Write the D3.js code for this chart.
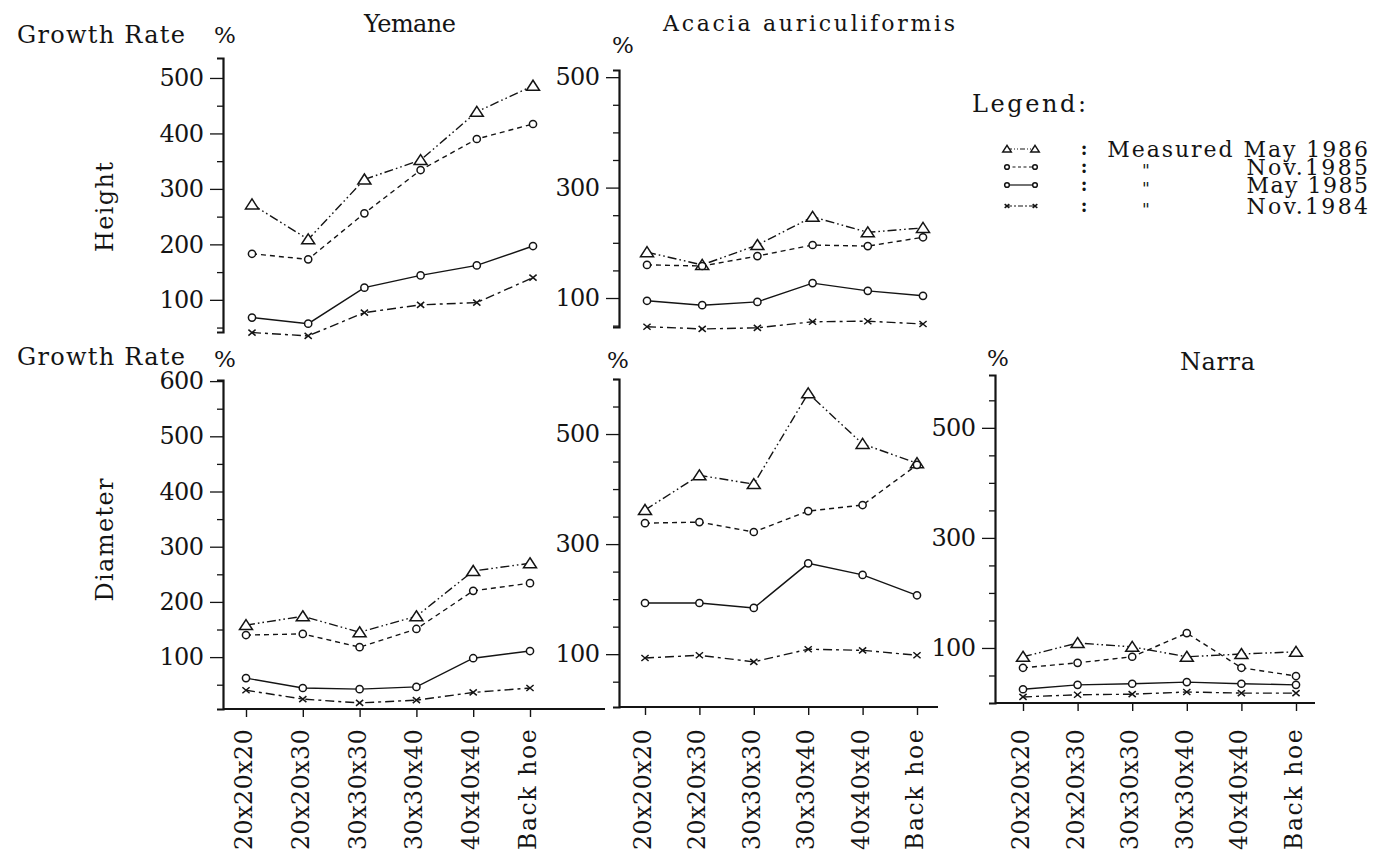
<!DOCTYPE html>
<html>
<head>
<meta charset="utf-8">
<script src="https://cdn.jsdelivr.net/npm/d3@7"></script>
<style>
  html, body { margin: 0; padding: 0; background: #fff; }
  svg { display: block; }
</style>
</head>
<body>
<svg id="chart" width="1376" height="858"></svg>
<script>
// Planting-hole size treatments (x axis)
const categories = ["20x20x20", "20x20x30", "30x30x30", "30x30x40", "40x40x40", "Back hoe"];
const seriesLabels = ["Measured May 1986", "Nov.1985", "May 1985", "Nov.1984"];

// Yemane – height growth rate (%)
const yemaneHeightMay86 = [272, 209, 317, 352, 439, 486];
const yemaneHeightNov85 = [183, 173, 256, 334, 390, 417];
const yemaneHeightMay85 = [68, 57, 122, 144, 162, 197];
const yemaneHeightNov84 = [41, 35, 77, 91, 95, 140];

// Acacia auriculiformis – height growth rate (%)
const acaciaHeightMay86 = [183, 160, 196, 247, 219, 227];
const acaciaHeightNov85 = [160, 158, 176, 196, 194, 210];
const acaciaHeightMay85 = [95, 87, 93, 127, 113, 104];
const acaciaHeightNov84 = [48, 44, 46, 57, 58, 53];

// Yemane – diameter growth rate (%)
const yemaneDiamMay86 = [158, 174, 145, 174, 256, 270];
const yemaneDiamNov85 = [140, 142, 118, 151, 220, 234];
const yemaneDiamMay85 = [62, 44, 42, 46, 98, 111];
const yemaneDiamNov84 = [40, 24, 17, 22, 36, 44];

// Acacia auriculiformis – diameter growth rate (%)
const acaciaDiamMay86 = [362, 425, 409, 574, 482, 447];
const acaciaDiamNov85 = [338, 340, 322, 360, 371, 444];
const acaciaDiamMay85 = [193, 193, 184, 265, 244, 207];
const acaciaDiamNov84 = [93, 98, 86, 109, 107, 98];

// Narra – diameter growth rate (%)
const narraDiamMay86 = [84, 109, 102, 84, 89, 93];
const narraDiamNov85 = [64, 73, 84, 127, 64, 49];
const narraDiamMay85 = [25, 33, 35, 38, 35, 33];
const narraDiamNov84 = [11, 15, 16, 20, 18, 18];

// Labelled y ticks per panel
const ticksYemaneHeight = [100, 200, 300, 400, 500];
const ticksAcaciaHeight = [100, 300, 500];
const ticksYemaneDiam = [100, 200, 300, 400, 500, 600];
const ticksAcaciaDiam = [100, 300, 500];
const ticksNarraDiam = [100, 300, 500];

// ---------- drawing ----------
// typewriter look: serif face spread to a fixed pitch per character
const FONT = "'DejaVu Serif', 'Liberation Serif', serif";
const ADV = 15.2;               // px per character
const INK = "#141414";
const svg = d3.select("#chart");

// spread a start-anchored text so it spans `width` px
function fit(t, width) {
  const n = t.text().length;
  if (n < 2) return t;
  const nat = t.node().getComputedTextLength();
  t.attr("letter-spacing", ((width - nat) / (n - 1)).toFixed(2));
  return t;
}

// line style + marker per series (May 86, Nov 85, May 85, Nov 84)
const styles = [
  { dash: "9,3,1.6,3,1.6,3", legendDash: "5,2,1,2,1,2", marker: "triangle" },
  { dash: "5,4", legendDash: "3,2.5", marker: "circle" },
  { dash: null, legendDash: null, marker: "circle" },
  { dash: "9,4,3,4", legendDash: "5,2,2,2", marker: "cross" }
];

function drawMarker(g, type, cx, cy, s) {
  if (type === "triangle") {
    g.append("path")
      .attr("d", `M${cx},${cy - 5.5 * s} L${cx + 6.5 * s},${cy + 4.5 * s} L${cx - 6.5 * s},${cy + 4.5 * s} Z`)
      .attr("fill", "#fff").attr("stroke", INK).attr("stroke-width", 1.5);
  } else if (type === "circle") {
    g.append("circle").attr("cx", cx).attr("cy", cy).attr("r", 3.6 * s)
      .attr("fill", "#fff").attr("stroke", INK).attr("stroke-width", 1.5);
  } else {
    const a = 3.6 * s, b = 3 * s;
    g.append("path")
      .attr("d", `M${cx - a},${cy - b} L${cx + a},${cy + b} M${cx - a},${cy + b} L${cx + a},${cy - b}`)
      .attr("stroke", INK).attr("stroke-width", 1.5).attr("fill", "none");
  }
}

const panels = [
  { series: [yemaneHeightMay86, yemaneHeightNov85, yemaneHeightMay85, yemaneHeightNov84],
    ticks: ticksYemaneHeight, axisX: 223, xRange: [252, 533],
    yDomain: [42, 536], yRange: [332, 58], baselineEnd: null },
  { series: [acaciaHeightMay86, acaciaHeightNov85, acaciaHeightMay85, acaciaHeightNov84],
    ticks: ticksAcaciaHeight, axisX: 619, xRange: [647, 923],
    yDomain: [47.5, 513], yRange: [327, 70], baselineEnd: null },
  { series: [yemaneDiamMay86, yemaneDiamNov85, yemaneDiamMay85, yemaneDiamNov84],
    ticks: ticksYemaneDiam, axisX: 223, xRange: [246, 530],
    yDomain: [6, 602], yRange: [709, 380], baselineEnd: 605 },
  { series: [acaciaDiamMay86, acaciaDiamNov85, acaciaDiamMay85, acaciaDiamNov84],
    ticks: ticksAcaciaDiam, axisX: 619, xRange: [645, 917],
    yDomain: [4, 600], yRange: [707, 379], baselineEnd: 938 },
  { series: [narraDiamMay86, narraDiamNov85, narraDiamMay85, narraDiamNov84],
    ticks: ticksNarraDiam, axisX: 995, xRange: [1023, 1296],
    yDomain: [0, 596], yRange: [703, 375], baselineEnd: 1315 }
];

const TICK_W = 3 * ADV - 1;

panels.forEach(p => {
  const x = d3.scalePoint().domain(categories).range(p.xRange);
  const y = d3.scaleLinear().domain(p.yDomain).range(p.yRange);

  // y axis: ticks every 50, labels only on the listed values
  const minor = d3.range(50, p.yDomain[1] + 1, 50).filter(v => v >= p.yDomain[0]);
  const gy = svg.append("g").attr("transform", `translate(${p.axisX},0)`);
  gy.call(d3.axisLeft(y).tickValues(minor).tickSizeOuter(0).tickSize(6)
    .tickFormat(d => p.ticks.includes(d) ? d : ""));
  gy.attr("font-family", FONT).attr("font-size", 24);
  gy.select(".domain").attr("stroke", INK).attr("stroke-width", 2.2);
  gy.selectAll(".tick line").attr("stroke", INK).attr("stroke-width", 1.3)
    .attr("x2", d => p.ticks.includes(d) ? -13 : -6);
  gy.selectAll(".tick text")
    .attr("text-anchor", "start").attr("x", -19 - TICK_W).attr("fill", INK)
    .each(function (d) { if (p.ticks.includes(d)) fit(d3.select(this), TICK_W); });

  // x axis (lower panels only)
  if (p.baselineEnd) {
    const y0 = p.yRange[0];
    svg.append("line").attr("x1", p.axisX).attr("x2", p.baselineEnd)
      .attr("y1", y0).attr("y2", y0).attr("stroke", INK).attr("stroke-width", 2.2);
    const gx = svg.append("g").attr("transform", `translate(0,${y0})`);
    gx.call(d3.axisBottom(x).tickSize(8).tickFormat(""));
    gx.select(".domain").remove();
    gx.selectAll(".tick line").attr("stroke", INK).attr("stroke-width", 1.4);
    // rotated labels run upward from y = 850
    svg.append("g").selectAll("text").data(categories).join("text")
      .attr("transform", d => `translate(${x(d) - 2},850) rotate(-90)`)
      .attr("text-anchor", "start").attr("dominant-baseline", "central")
      .attr("font-family", FONT).attr("font-size", 23.5).attr("fill", INK)
      .text(d => d)
      .each(function (d) { fit(d3.select(this), d.length * ADV - 1); });
  }

  // series lines, then markers on top
  const line = d3.line().x((d, i) => x(categories[i])).y(d => y(d));
  p.series.forEach((vals, si) => {
    svg.append("path").datum(vals).attr("d", line)
      .attr("fill", "none").attr("stroke", INK).attr("stroke-width", 1.4)
      .attr("stroke-dasharray", styles[si].dash);
  });
  p.series.forEach((vals, si) => {
    const gm = svg.append("g");
    vals.forEach((v, i) => drawMarker(gm, styles[si].marker, x(categories[i]), y(v), 1));
  });
});

// ---------- text ----------
// start-anchored text at (left, baseline), spread to `width`
function txt(s, left, base, width, size = 24) {
  const t = svg.append("text").attr("x", left).attr("y", base)
    .attr("font-family", FONT).attr("font-size", size).attr("fill", INK).text(s);
  return fit(t, width);
}
function pct(cx, base) {
  svg.append("text").attr("x", cx).attr("y", base).attr("text-anchor", "middle")
    .attr("font-family", FONT).attr("font-size", 23).attr("fill", INK).text("%");
}
function vtxt(s, cx, cy, width) {
  const t = svg.append("text")
    .attr("transform", `translate(${cx},${cy + width / 2}) rotate(-90)`)
    .attr("dominant-baseline", "central")
    .attr("font-family", FONT).attr("font-size", 24).attr("fill", INK).text(s);
  return fit(t, width);
}

txt("Growth Rate", 17, 43, 168);
pct(225, 43);
txt("Growth Rate", 17, 365, 168);
pct(225, 367);
txt("Yemane", 364, 32, 92);
txt("Acacia auriculiformis", 663, 31, 292, 22);
pct(623, 53);
pct(618, 368);
pct(998, 366);
txt("Narra", 1180, 370, 75);
vtxt("Height", 105, 207, 90);
vtxt("Diameter", 105, 540, 123);

// ---------- legend ----------
txt("Legend:", 972, 112, 114, 24);
const legendRows = [149, 167, 185, 206];
const legend = svg.append("g");
seriesLabels.forEach((lab, i) => {
  const cy = legendRows[i];
  legend.append("line").attr("x1", 1007).attr("x2", 1035).attr("y1", cy).attr("y2", cy)
    .attr("stroke", INK).attr("stroke-width", 1.2)
    .attr("stroke-dasharray", styles[i].legendDash);
  drawMarker(legend, styles[i].marker, 1007, cy, 0.65);
  drawMarker(legend, styles[i].marker, 1035, cy, 0.65);
  legend.append("text").attr("x", 1084).attr("y", cy + 6).attr("text-anchor", "middle")
    .attr("font-family", FONT).attr("font-size", 18).attr("font-weight", "bold")
    .attr("fill", INK).text(":");
  if (i > 0) {
    legend.append("text").attr("x", 1146).attr("y", cy + 9).attr("text-anchor", "middle")
      .attr("font-family", FONT).attr("font-size", 17).attr("fill", INK).text("\"");
  }
  const w = lab.length * 15.45 - 2;
  txt(lab, 1368 - w, cy + 8, w, 22);
});
</script>
</body>
</html>
